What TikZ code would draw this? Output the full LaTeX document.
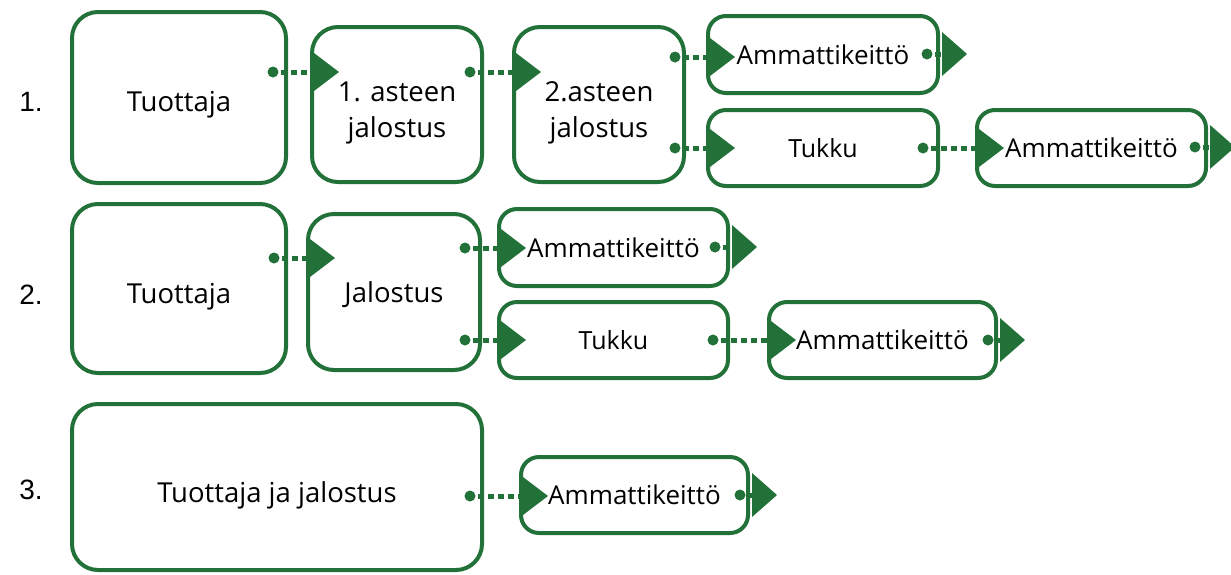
\documentclass[tikz,border=0pt]{standalone}
\usepackage{fontspec}
\setmainfont{Open Sans}
\newfontfamily\numfont{Liberation Sans}
\usetikzlibrary{arrows.meta}
\definecolor{leaf}{RGB}{33,113,56}
\tikzset{
  box/.style={draw=leaf, line width=4pt, rounded corners=#1, outer sep=0pt,
    inner sep=0pt, align=center, text=black},
  big/.style={box=26pt},
  small/.style={box=18pt, font=\fontsize{26}{32}\selectfont},
  tukku/.style={box=18pt, font=\fontsize{25}{30}\selectfont},
  bigtext/.style={font=\fontsize{27.5}{36}\selectfont, align=center, inner sep=0pt, yshift=-#1},
  pt/.style={circle, fill=leaf, minimum size=11pt, inner sep=0pt, outer sep=0pt},
  flow/.style={draw=leaf, line width=5pt, dash pattern=on 6pt off 4pt,
    -{Triangle[length=27pt, width=41pt, line width=0pt]}, shorten >=-27pt, shorten <=2pt},
  tail/.style={draw=leaf, line width=5pt, dash pattern=on 6pt off 4pt,
    -{Triangle[length=25pt, width=44pt, line width=0pt]}, shorten >=-29pt, shorten <=2pt},
  num/.style={font=\numfont\fontsize{28}{32}\selectfont}
}
\begin{document}
\begin{tikzpicture}[x=1pt, y=-1pt]
\useasboundingbox (0,0) rectangle (1231,574);

% row numbers
\node[num] (n1) at (31,102) {1.};
\node[num] (n2) at (31,295) {2.};
\node[num] (n3) at (31,490) {3.};

% row 1
\node[big, minimum width=214pt, minimum height=171pt,
  label={[bigtext=7pt]center:Tuottaja}] (t1) at (179,97.5) {};
\node[big, minimum width=170pt, minimum height=155pt,
  label={[bigtext=8pt]center:1. asteen\\jalostus}] (j1) at (397,104.5) {};
\node[big, minimum width=170pt, minimum height=155pt,
  label={[bigtext=8pt]center:2.asteen\\jalostus}] (j2) at (599,104.5) {};
\node[small, minimum width=230pt, minimum height=77pt] (a1) at (823,54.5) {Ammattikeittö};
\node[tukku, minimum width=230pt, minimum height=76pt] (k1) at (823,148) {Tukku};
\node[small, minimum width=229pt, minimum height=76pt] (a2) at (1091.5,148) {Ammattikeittö};

% row 2
\node[big, minimum width=214pt, minimum height=169pt,
  label={[bigtext=8pt]center:Tuottaja}] (t2) at (179,288.5) {};
\node[big, minimum width=172pt, minimum height=156pt,
  label={[bigtext=3pt]center:Jalostus}] (j3) at (394,292) {};
\node[small, minimum width=229pt, minimum height=77pt] (a3) at (613.5,247.5) {Ammattikeittö};
\node[tukku, minimum width=229pt, minimum height=76pt] (k2) at (613.5,340) {Tukku};
\node[small, minimum width=227pt, minimum height=76pt] (a4) at (882.5,340) {Ammattikeittö};

% row 3
\node[big, minimum width=410pt, minimum height=166pt,
  label={[bigtext=8pt]center:Tuottaja ja jalostus}] (t3) at (277,487) {};
\node[small, minimum width=227pt, minimum height=76pt] (a5) at (634.5,495) {Ammattikeittö};

% outlet points
\node[pt] (pt1) at (273,72) {};
\node[pt] (pj1) at (470,72) {};
\node[pt] (pj2a) at (675,57) {};
\node[pt] (pj2b) at (675,148) {};
\node[pt] (pa1) at (927,54) {};
\node[pt] (pk1) at (923,148) {};
\node[pt] (pa2) at (1195,147) {};
\node[pt] (pt2) at (274,258) {};
\node[pt] (pj3a) at (465,248) {};
\node[pt] (pj3b) at (465,340) {};
\node[pt] (pa3) at (715,247) {};
\node[pt] (pk2) at (713,340) {};
\node[pt] (pa4) at (988,340) {};
\node[pt] (pt3) at (470,496) {};
\node[pt] (pa5) at (740,495) {};

% connectors
\draw[flow] (pt1) -- (j1.west |- pt1);
\draw[flow] (pj1) -- (j2.west |- pj1);
\draw[flow] (pj2a) -- (a1.west |- pj2a);
\draw[flow] (pj2b) -- (k1.west |- pj2b);
\draw[flow] (pk1) -- (a2.west |- pk1);
\draw[flow] (pt2) -- (j3.west |- pt2);
\draw[flow] (pj3a) -- (a3.west |- pj3a);
\draw[flow] (pj3b) -- (k2.west |- pj3b);
\draw[flow] (pk2) -- (a4.west |- pk2);
\draw[flow] (pt3) -- (a5.west |- pt3);

% open ends after the last stage
\draw[tail] (pa1) -- (a1.east |- pa1);
\draw[tail] (pa2) -- (a2.east |- pa2);
\draw[tail] (pa3) -- (a3.east |- pa3);
\draw[tail] (pa4) -- (a4.east |- pa4);
\draw[tail] (pa5) -- (a5.east |- pa5);
\end{tikzpicture}
\end{document}
